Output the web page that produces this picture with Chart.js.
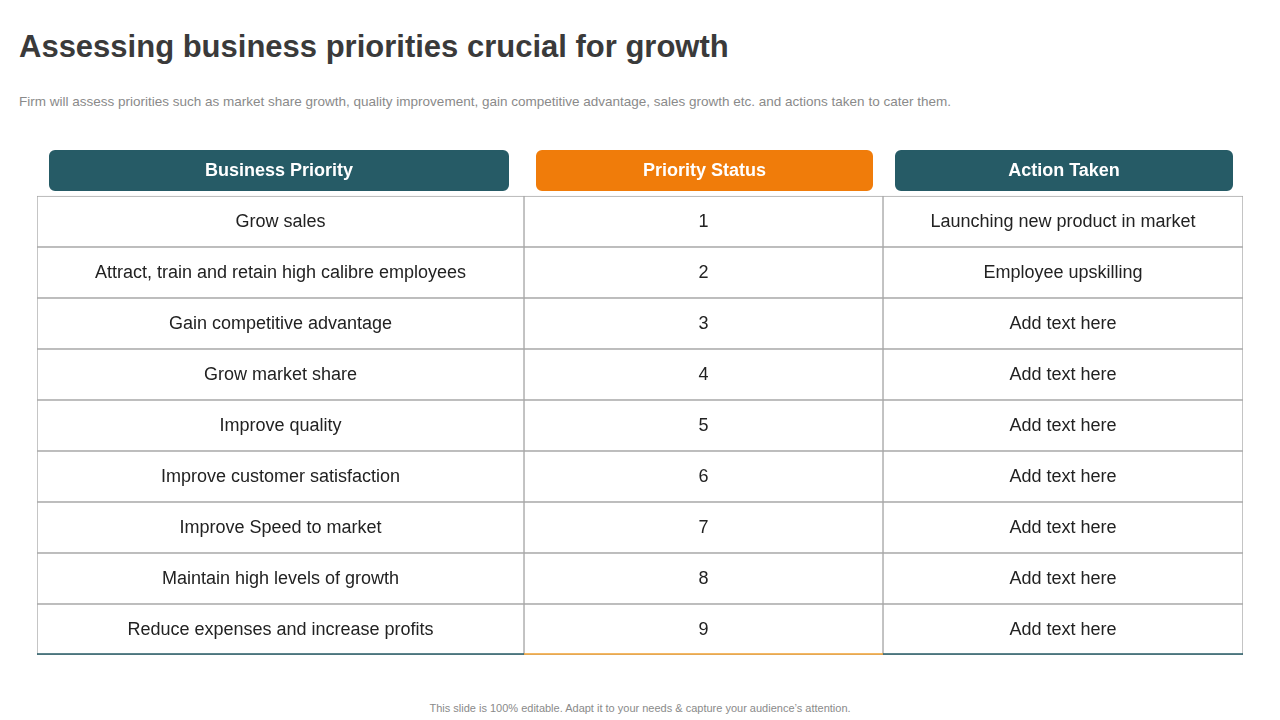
<!DOCTYPE html>
<html><head><meta charset="utf-8">
<script src="https://cdn.jsdelivr.net/npm/chart.js@4"></script>
<style>
body{margin:0;width:1280px;height:720px;background:#fff;font-family:"Liberation Sans",Arial,sans-serif;position:relative;overflow:hidden}
h1{position:absolute;left:19px;top:29px;margin:0;font-size:31px;color:#3a3a3a;font-weight:bold}
.sub{position:absolute;left:19px;top:94px;font-size:13.5px;color:#8a8a8a}
.foot{position:absolute;left:0;width:1280px;top:702px;text-align:center;font-size:11px;color:#8a8a8a}
#wrap{position:absolute;left:37px;top:145px;width:1206px;height:510px}
</style></head><body>
<h1>Assessing business priorities crucial for growth</h1>
<div class="sub">Firm will assess priorities such as market share growth, quality improvement, gain competitive advantage, sales growth etc. and actions taken to cater them.</div>
<div id="wrap"><canvas id="c"></canvas></div>
<div class="foot">This slide is 100% editable. Adapt it to your needs &amp; capture your audience’s attention.</div>
<script>
var headers = ["Business Priority", "Priority Status", "Action Taken"];
var headerColors = ["#265b66", "#f07c0a", "#265b66"];
var priorities = ["Grow sales", "Attract, train and retain high calibre employees", "Gain competitive advantage",
  "Grow market share", "Improve quality", "Improve customer satisfaction", "Improve Speed to market",
  "Maintain high levels of growth", "Reduce expenses and increase profits"];
var statuses = ["1", "2", "3", "4", "5", "6", "7", "8", "9"];
var actions = ["Launching new product in market", "Employee upskilling", "Add text here", "Add text here",
  "Add text here", "Add text here", "Add text here", "Add text here", "Add text here"];
var colEdges = [0, 487, 846, 1206];
var headerSpans = [[12, 472], [499, 836], [858, 1196]];

var rowLabels = ["head"].concat(priorities.map(function(p, i){ return "r" + i; }));
var columns = [priorities, statuses, actions];
var datasets = [];
for (var c = 0; c < 3; c++) {
  datasets.push({
    label: headers[c], grouped: false, barPercentage: 0.8, categoryPercentage: 1,
    backgroundColor: headerColors[c], borderRadius: 6, borderSkipped: false,
    data: [headerSpans[c]].concat(priorities.map(function(){ return null; })),
    texts: [headers[c]], head: true
  });
  datasets.push({
    label: "col" + c, grouped: false, barPercentage: 1, categoryPercentage: 1,
    backgroundColor: "#ffffff", borderColor: "#a8a8a8", borderWidth: 1, borderSkipped: false,
    data: [null].concat(priorities.map(function(){ return [colEdges[c], colEdges[c + 1]]; })),
    texts: [""].concat(columns[c]), bottom: c == 1 ? "#f0a030" : "#265b66"
  });
}

var cellText = {
  id: "cellText",
  afterDatasetsDraw: function(chart){
    var ctx = chart.ctx;
    ctx.save();
    ctx.textAlign = "center"; ctx.textBaseline = "middle";
    chart.data.datasets.forEach(function(ds, di){
      var meta = chart.getDatasetMeta(di);
      meta.data.forEach(function(bar, i){
        var t = ds.texts[i];
        if (ds.data[i] == null) return;
        var cx = (bar.x + bar.base) / 2;
        if (ds.bottom && i == ds.data.length - 1) {
          ctx.strokeStyle = ds.bottom; ctx.lineWidth = 1.5;
          ctx.beginPath(); ctx.moveTo(bar.base, bar.y + bar.height / 2 - 1); ctx.lineTo(bar.x, bar.y + bar.height / 2 - 1); ctx.stroke();
        }
        if (!t) return;
        ctx.fillStyle = ds.head ? "#ffffff" : "#222222";
        ctx.font = (ds.head ? "bold " : "") + "18px 'Liberation Sans', Arial, sans-serif";
        ctx.fillText(t, cx, bar.y + 1);
      });
    });
    ctx.restore();
  }
};

new Chart(document.getElementById("c"), {
  type: "bar",
  data: { labels: rowLabels, datasets: datasets },
  options: {
    indexAxis: "y", responsive: true, maintainAspectRatio: false, animation: false,
    layout: { padding: 0 },
    plugins: { legend: { display: false }, tooltip: { enabled: false } },
    scales: {
      x: { type: "linear", min: 0, max: 1206, display: false },
      y: { display: false }
    }
  },
  plugins: [cellText]
});
</script>
</body></html>
